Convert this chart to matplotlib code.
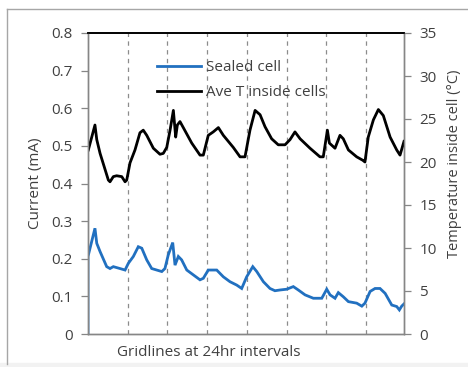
import matplotlib
matplotlib.use("Agg")
import matplotlib.pyplot as plt
from matplotlib.lines import Line2D
from matplotlib.patches import Rectangle

plt.rcParams['font.family'] = ['Open Sans', 'DejaVu Sans']

# ---- data (hours since start) ----
temp_hours = [0.2, 4.2, 5.3, 7.3, 12.3, 13.3, 15.3, 17.3, 20.4, 22.4, 23.4, 25.4, 28.4,
              31.4, 33.4, 35.5, 39.5, 43.5, 45.5, 47.6, 49.6, 51.6, 53.0, 54.0, 55.6,
              57.6, 62.7, 67.7, 69.7, 72.7, 75.7, 78.8, 81.8, 87.8, 91.9, 94.9, 97.9,
              101.0, 104.0, 107.0, 111.0, 115.0, 119.1, 122.1, 125.1, 128.2, 134.2,
              140.2, 142.2, 144.7, 145.9, 149.3, 152.3, 154.3, 157.4, 162.4, 166.1,
              167.4, 169.4, 172.5, 175.5, 178.5, 182.6, 186.6, 188.6, 191.0]
temp_values = [21.4, 24.3, 22.6, 21.0, 17.9, 17.7, 18.3, 18.4, 18.3, 17.7, 17.9, 19.9, 21.4,
               23.4, 23.7, 23.1, 21.6, 20.9, 21.0, 21.7, 23.7, 26.0, 22.9, 24.3, 24.7,
               24.0, 22.2, 20.8, 20.8, 23.1, 23.5, 24.0, 23.1, 21.7, 20.6, 20.6, 23.7,
               26.0, 25.5, 24.1, 22.7, 22.0, 22.0, 22.6, 23.5, 22.7, 21.6, 20.6,
               20.6, 23.7, 22.2, 21.6, 23.1, 22.7, 21.4, 20.6, 20.2, 20.0, 22.9, 24.9,
               26.1, 25.4, 22.9, 21.4, 20.8, 22.4]

cur_hours = [0.0, 0.0, 4.2, 5.3, 7.3, 11.3, 13.3, 15.3, 19.3, 22.4, 24.4, 27.4, 30.4, 32.5,
             35.5, 38.5, 44.6, 46.5, 48.5, 51.2, 52.6, 54.6, 56.6, 59.7, 63.7, 67.7,
             69.7, 72.7, 77.8, 81.8, 85.8, 89.9, 92.9, 95.9, 99.6, 102.0, 106.0, 110.0,
             113.0, 116.1, 120.1, 124.1, 127.1, 131.2, 136.2, 141.3, 144.3, 146.3,
             149.3, 151.3, 154.3, 157.4, 162.4, 165.5, 167.4, 170.5, 173.5, 176.5,
             179.6, 183.6, 186.6, 188.2, 189.6, 191.0]
cur_values = [0.0, 0.206, 0.281, 0.241, 0.219, 0.179, 0.174, 0.179, 0.174, 0.170, 0.188,
              0.206, 0.232, 0.228, 0.197, 0.174, 0.166, 0.174, 0.210, 0.243, 0.183, 0.206,
              0.197, 0.170, 0.157, 0.144, 0.148, 0.170, 0.170, 0.152, 0.139, 0.130, 0.121,
              0.152, 0.179, 0.166, 0.139, 0.121, 0.115, 0.117, 0.119, 0.126, 0.117, 0.104,
              0.095, 0.095, 0.119, 0.104, 0.095, 0.110, 0.099, 0.086, 0.082, 0.074, 0.082,
              0.113, 0.121, 0.121, 0.108, 0.077, 0.073, 0.064, 0.074, 0.080]

grid_hours = [24, 48, 72, 96, 120, 144, 168]
left_ticks = [0, 0.1, 0.2, 0.3, 0.4, 0.5, 0.6, 0.7, 0.8]
left_labels = ['0', '0.1', '0.2', '0.3', '0.4', '0.5', '0.6', '0.7', '0.8']
right_ticks = [0, 5, 10, 15, 20, 25, 30, 35]

W, H = 468, 367
fig = plt.figure(figsize=(W / 100, H / 100), dpi=100)
ax = fig.add_axes([88 / W, 1 - 334 / H, (404 - 88) / W, (334 - 33) / H])
ax2 = ax.twinx()

# figure border (Excel chart frame)
fig.add_artist(Line2D([7 / W, 7 / W], [1 - 9 / H, 1 - 364 / H], color='#a6a6a6', lw=1.0))
fig.add_artist(Line2D([7 / W, 1.0], [1 - 9 / H, 1 - 9 / H], color='#a6a6a6', lw=1.0))
fig.add_artist(Rectangle((0, 0), 1, 1 - 363 / H, transform=fig.transFigure,
                         color='#f2f2f2', zorder=-5))

gray = '#868686'
for x in grid_hours:
    ax.axvline(x, color='#8c8c8c', lw=0.9, ls=(0, (3.5, 3.5)), zorder=0)

blue = '#2170c0'
ln1, = ax.plot(cur_hours, cur_values, color=blue, lw=2.0, label='Sealed cell',
               solid_joinstyle='miter')
ln2, = ax2.plot(temp_hours, temp_values, color='black', lw=2.0, label='Ave T inside cells')

ax.set_xlim(0, 191)
ax.set_ylim(0, 0.8)
ax2.set_ylim(0, 35)
ax.set_yticks(left_ticks)
ax.set_yticklabels(left_labels)
ax2.set_yticks(right_ticks)
ax.set_xticks([])

fs = 11
for a in (ax, ax2):
    for s in a.spines.values():
        s.set_color(gray)
        s.set_linewidth(1.0)
    a.spines['top'].set_color('black')
    a.spines['top'].set_linewidth(1.2)
    a.tick_params(axis='y', colors=gray, length=5, width=0.9, labelsize=fs,
                  labelcolor='#404040', pad=6)

ax.set_ylabel('Current (mA)', fontsize=fs, color='#404040')
ax.yaxis.set_label_coords(-0.142, 0.5)
ax2.set_ylabel('Temperature inside cell (°C)', fontsize=10.5, color='#404040')
ax2.yaxis.set_label_coords(1.135, 0.565)
ax.set_xlabel('Gridlines at 24hr intervals', fontsize=fs, color='#404040')
ax.xaxis.set_label_coords((209 - 88) / (404 - 88), -0.038)

leg = fig.legend(handles=[ln1, ln2], loc='upper left',
                 bbox_to_anchor=(157 / W, 1 - 60 / H), frameon=False,
                 fontsize=fs, handlelength=2.9, handletextpad=0.3,
                 labelspacing=0.65, borderpad=0, borderaxespad=0)
for t in leg.get_texts():
    t.set_color('#404040')

fig.savefig('out.png', dpi=100)
